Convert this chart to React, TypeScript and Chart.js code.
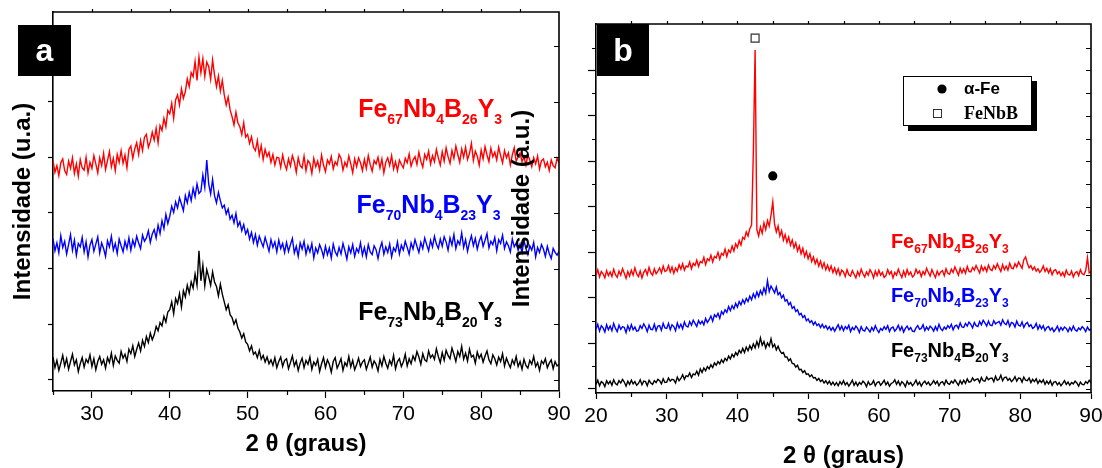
import { useEffect, useRef } from 'react';
import { Chart, registerables } from 'chart.js';

Chart.register(...registerables);

const SANS = '"Liberation Sans", Arial, Helvetica, sans-serif';
const SERIF = '"Liberation Serif", "Times New Roman", Times, serif';
const RED = '#ff0000';
const BLUE = '#0000ff';
const BLACK = '#000000';

// ---------- Panel a (2θ 25..90, step 0.25) ----------
const TWO_THETA_A = Array.from({ length: 261 }, (_, i) => 25 + i * 0.25);

const FE67_A = [
  394,373,385,367,390,397,376,369,393,380,399,371,388,366,396,381,377,400,372,391,
  380,403,388,372,399,385,407,378,394,410,383,398,376,405,391,412,389,404,381,414,
  420,398,415,426,405,430,412,436,441,418,428,445,431,452,426,457,448,470,455,484,
  478,497,470,503,512,494,523,506,518,541,527,552,545,572,538,580,552,577,545,571,
  563,540,575,548,527,546,519,538,512,494,508,485,473,458,481,462,455,441,462,436,
  441,425,437,418,412,430,404,421,396,414,401,409,391,405,386,400,399,382,404,388,
  378,397,384,403,392,373,399,385,381,402,376,394,389,371,398,383,393,377,404,386,
  374,395,388,401,379,392,386,405,398,377,391,383,402,388,372,397,383,399,390,376,
  396,380,403,387,375,394,388,400,381,397,372,391,399,385,403,379,392,376,395,387,
  381,398,390,406,384,395,401,387,409,393,382,405,396,411,388,403,392,414,399,386,
  410,393,417,401,389,412,398,420,405,391,415,400,418,396,407,425,394,411,402,386,
  413,397,419,404,392,416,401,409,395,418,403,390,412,399,408,386,404,417,393,401,
  408,392,401,386,404,395,383,399,388,402,379,394,397,383,391,376,395,385,381,398,
  390,
];

const FE70_A = [
  254,232,246,228,259,238,249,226,243,261,233,251,224,245,239,256,230,248,221,242,
  252,231,244,257,228,246,236,222,250,239,258,233,245,227,253,241,230,249,236,255,
  233,251,240,258,246,236,260,249,255,268,247,262,270,255,278,263,286,272,297,281,
  294,312,301,320,309,327,316,304,331,318,337,322,344,329,352,335,339,368,346,395,
  352,334,360,331,318,337,322,309,314,298,307,289,296,282,299,276,284,268,279,262,
  270,253,265,247,261,242,258,248,239,256,244,231,252,238,248,230,251,236,245,229,
  247,231,243,254,228,240,222,246,235,249,226,241,230,245,219,237,228,243,234,221,
  240,225,237,219,244,230,223,238,226,245,232,217,239,228,243,222,236,229,246,224,
  238,221,243,230,225,241,234,218,236,247,226,239,229,244,221,237,231,248,226,242,
  233,249,238,226,246,235,252,240,229,247,236,255,243,232,251,239,258,244,236,253,
  240,257,248,233,255,242,261,236,250,243,264,238,252,231,247,259,241,254,235,249,
  258,240,251,263,237,249,243,256,232,252,245,260,236,248,241,230,253,239,246,233,
  244,229,250,236,225,241,233,247,221,238,229,243,235,222,240,227,218,236,229,224,
  231,
];

const FE73_A = [
  41,22,35,17,30,44,25,38,19,33,46,27,36,15,29,40,23,37,31,45,
  24,38,18,33,42,28,36,21,40,31,48,26,43,35,30,51,39,46,33,55,
  47,61,42,55,66,52,71,60,78,67,84,72,81,96,88,103,97,114,104,122,
  126,140,119,146,137,155,131,160,149,170,156,176,165,190,170,232,178,206,169,198,
  185,170,194,176,168,151,172,154,140,126,135,117,112,100,108,93,86,75,83,68,
  64,52,61,46,50,40,53,37,44,32,41,29,36,26,40,22,33,41,24,35,
  38,20,31,43,25,34,17,30,39,22,35,28,41,19,32,26,37,15,29,40,
  22,36,28,14,33,40,21,29,38,17,31,25,42,23,35,18,27,39,24,32,
  36,19,30,41,23,34,28,16,37,25,42,30,21,35,27,44,20,33,38,24,
  32,46,25,38,29,43,35,51,41,28,47,36,33,52,40,45,37,56,42,31,
  49,35,53,44,38,57,46,33,51,42,60,37,48,34,55,41,44,30,50,39,
  46,32,43,52,36,29,45,38,27,41,33,47,25,39,30,22,36,28,42,24,
  33,19,37,26,21,35,28,42,24,31,17,34,29,38,22,30,36,20,33,25,
  28,
];

const X_TICKS_A = [30, 40, 50, 60, 70, 80, 90];
const X_MINOR_A = [25, 35, 45, 55, 65, 75, 85];
const X_TOP_A = [30, 35, 40, 45, 50, 55, 60, 65, 70, 75, 80, 85];
const Y_TICKS_A = [0, 100, 200, 300, 400, 500, 600];

// ---------- Panel b (2θ 20..90, step 0.25) ----------
const TWO_THETA_B = Array.from({ length: 281 }, (_, i) => 20 + i * 0.25);

const FE67_B = [
  250,262,246,258, 253,244,260,249, 257,247,263,251, 245,259,250,264, 254,243,258,248,
  261,250,266,253, 247,259,244,256, 262,251,267,255, 250,264,253,259, 266,255,270,258,
  260,271,257,268, 254,266,259,273, 263,275,261,270, 268,279,264,276, 271,283,269,280,
  277,289,273,286, 282,294,279,291, 288,300,285,298, 294,307,291,305, 300,314,303,319,
  311,326,316,333, 329,345,336,352, 360,520,745,350, 336,356,342,365, 350,370,358,382,
  411,362,345,358, 336,348,327,339, 322,334,316,327, 310,321,303,314, 297,309,291,302,
  286,297,280,290, 275,285,270,281, 266,277,262,272, 260,270,256,266, 253,264,250,261,
  257,247,262,251, 248,260,252,244, 258,249,263,253, 246,257,250,262, 255,244,259,249,
  261,250,256,245, 249,262,252,258, 244,256,250,263, 253,245,259,248, 262,251,257,246,
  250,263,254,259, 247,258,251,265, 256,248,262,253, 245,259,250,257, 260,249,264,254,
  252,263,256,268, 259,250,265,255, 264,254,269,258, 257,267,261,271, 263,255,270,260,
  268,258,272,263, 260,271,264,275, 266,258,273,262, 270,261,276,266, 264,275,268,279,
  272,265,284,290, 276,266,271,262, 268,259,264,256, 261,270,258,265, 255,264,251,260,
  262,253,258,249, 256,247,261,252, 250,259,246,255, 258,249,262,253, 251,260,288,255,
  257,
];

const FE70_B = [
  131,142,127,139, 134,125,141,130, 138,128,144,133, 126,140,131,137, 135,124,139,129,
  141,130,136,127, 128,139,133,143, 136,126,140,131, 130,142,128,138, 139,129,144,134,
  133,144,130,141, 137,128,145,134, 142,132,147,138, 136,148,140,151, 144,137,150,143,
  149,141,155,146, 152,160,149,163, 158,166,155,170, 164,174,168,181, 172,183,176,188,
  180,192,185,196, 188,199,192,204, 196,209,200,213, 203,216,207,222, 210,238,214,226,
  219,211,224,207, 212,200,206,193, 196,185,190,177, 181,170,174,163, 166,157,161,150,
  154,146,150,141, 147,139,143,135, 142,134,139,131, 137,129,135,127, 134,141,130,138,
  128,137,132,140, 126,135,130,138, 133,124,137,129, 127,136,131,125, 135,128,139,130,
  124,133,129,137, 131,139,126,134, 136,127,132,140, 129,137,125,133, 138,130,135,127,
  126,134,139,131, 133,141,128,136, 130,138,134,127, 137,129,142,132, 128,136,131,139,
  134,142,130,138, 140,133,145,136, 135,144,138,147, 142,134,146,139, 137,148,141,151,
  145,138,149,140, 139,150,143,146, 148,140,152,144, 141,150,137,146, 144,136,149,140,
  138,147,135,143, 146,137,141,133, 136,144,131,140, 132,139,128,135, 137,129,134,126,
  131,138,127,135, 129,136,133,126, 135,128,138,130, 127,134,130,137, 133,126,136,129,
  132,
];

const FE73_B = [
  10,19,7,16, 13,5,18,11, 17,8,20,12, 9,18,13,21, 15,6,17,10,
  19,11,16,8, 12,20,9,17, 16,7,19,13, 10,18,14,21, 18,11,22,14,
  15,24,17,21, 20,13,26,18, 23,31,21,29, 27,35,25,33, 31,39,30,44,
  36,46,40,49, 44,53,47,57, 52,60,55,64, 58,67,62,72, 66,76,70,80,
  74,85,79,89, 80,92,84,95, 87,99,90,104, 93,112,96,104, 90,101,94,110,
  92,98,86,94, 84,78,80,70, 70,62,66,56, 55,48,52,42, 43,36,40,32,
  33,27,31,24, 25,19,23,16, 20,13,18,11, 17,9,15,8, 14,7,16,10,
  18,9,14,6, 12,19,8,15, 7,14,10,17, 13,5,16,9, 11,18,7,14,
  16,8,13,19, 9,15,6,12, 14,20,10,17, 8,16,12,5, 17,10,14,7,
  12,19,9,15, 6,13,17,10, 15,8,12,18, 11,17,7,14, 16,9,19,12,
  10,17,13,20, 14,8,18,11, 19,12,22,15, 16,24,18,21, 22,14,25,18,
  17,26,20,23, 24,16,28,19, 21,30,18,25, 26,19,23,16, 20,27,17,24,
  23,15,26,19, 18,24,14,21, 16,22,12,19, 14,20,10,17, 11,18,8,15,
  16,9,14,7, 12,18,10,15, 8,14,11,17, 13,6,15,10, 9,16,12,19,
  13,
];

const X_TICKS_B = [20, 30, 40, 50, 60, 70, 80, 90];
const X_MINOR_B = [25, 35, 45, 55, 65, 75, 85];
const X_TOP_B = [25, 30, 35, 40, 45, 50, 55, 60, 65, 70, 75, 80, 85];
const Y_TICKS_B = [0, 100, 200, 300, 400, 500, 600, 700];
const Y_MINOR_B = [50, 150, 250, 350, 450, 550, 650, 750];

// Phase markers (2θ, intensity)
const PEAK_FENBB = [{ x: 42.5, y: 771 }];
const PEAK_AFE = [{ x: 45.0, y: 468 }];
const LEGEND_B = ['α-Fe', 'FeNbB'];

// Composition names (main, subscript, main, subscript, ...)
const NAME_67 = ['Fe', '67', 'Nb', '4', 'B', '26', 'Y', '3'];
const NAME_70 = ['Fe', '70', 'Nb', '4', 'B', '23', 'Y', '3'];
const NAME_73 = ['Fe', '73', 'Nb', '4', 'B', '20', 'Y', '3'];

function drawFormula(ctx: CanvasRenderingContext2D, parts: string[], x: number, y: number, color: string, mainPx: number, subPx: number, subDy: number) {
  ctx.fillStyle = color;
  ctx.textAlign = 'left';
  ctx.textBaseline = 'alphabetic';
  let cx = x;
  parts.forEach((p, i) => {
    const sub = i % 2 === 1;
    ctx.font = `bold ${sub ? subPx : mainPx}px ${SANS}`;
    ctx.fillText(p, cx, sub ? y + subDy : y);
    cx += ctx.measureText(p).width;
  });
}

function decor(cfg: any) {
  return {
    id: cfg.id,
    afterDraw(chart: any) {
      const { ctx, chartArea, scales } = chart;
      const { left, right, top, bottom } = chartArea;
      const x = scales.x;
      const y = scales.y;
      const px = (v: number) => Math.round(x.getPixelForValue(v)) + 0.5;
      const py = (v: number) => Math.round(y.getPixelForValue(v)) + 0.5;
      ctx.save();
      ctx.strokeStyle = '#000';
      ctx.lineWidth = 1.6;
      ctx.beginPath();
      ctx.moveTo(left, top);
      ctx.lineTo(right, top);
      ctx.lineTo(right, bottom);
      ctx.stroke();
      ctx.lineWidth = 1.2;
      ctx.beginPath();
      cfg.topTicks.forEach((v: number) => { const p = px(v); ctx.moveTo(p, top); ctx.lineTo(p, top - 3); });
      cfg.rightTicks.forEach((v: number) => { const p = py(v); ctx.moveTo(right, p); ctx.lineTo(right - 5, p); });
      cfg.bottomMinor.forEach((v: number) => { const p = px(v); ctx.moveTo(p, bottom); ctx.lineTo(p, bottom + cfg.minorLen); });
      cfg.leftMinor.forEach((v: number) => { const p = py(v); ctx.moveTo(left, p); ctx.lineTo(left - cfg.minorLen, p); });
      ctx.stroke();

      cfg.labels.forEach((l: any) => {
        drawFormula(ctx, l.parts, x.getPixelForValue(l.at[0]), y.getPixelForValue(l.at[1]), l.color, cfg.mainPx, cfg.subPx, cfg.subDy);
      });

      const b = cfg.box;
      ctx.fillStyle = '#000';
      ctx.fillRect(b.x, b.y, b.w, b.h);
      ctx.fillStyle = '#fff';
      ctx.font = `bold ${b.size}px ${SANS}`;
      ctx.textAlign = 'center';
      ctx.textBaseline = 'alphabetic';
      ctx.fillText(b.text, b.x + b.w / 2, b.base);

      if (cfg.legend) {
        const g = cfg.legend;
        ctx.fillStyle = '#000';
        ctx.fillRect(g.x + 5, g.y + 5, g.w, g.h);
        ctx.fillStyle = '#fff';
        ctx.fillRect(g.x, g.y, g.w, g.h);
        ctx.strokeStyle = '#000';
        ctx.lineWidth = 1;
        ctx.strokeRect(g.x + 0.5, g.y + 0.5, g.w - 1, g.h - 1);
        ctx.fillStyle = '#000';
        ctx.beginPath();
        ctx.arc(g.x + 39, g.y + 13, 4.6, 0, Math.PI * 2);
        ctx.fill();
        ctx.strokeStyle = '#333';
        ctx.strokeRect(g.x + 30.5, g.y + 33.5, 8, 8);
        ctx.fillStyle = '#000';
        ctx.textAlign = 'left';
        ctx.textBaseline = 'middle';
        ctx.font = `bold 17px ${SANS}`;
        ctx.fillText(LEGEND_B[0], g.x + 61, g.y + 13);
        ctx.font = `bold 18px ${SERIF}`;
        ctx.fillText(LEGEND_B[1], g.x + 61, g.y + 38);
      }
      ctx.restore();
    },
  };
}

function lineSet(label: string, xs: number[], ys: number[], color: string) {
  return {
    label,
    data: ys.map((v, i) => ({ x: xs[i], y: v })),
    borderColor: color,
    borderWidth: 1.4,
    pointRadius: 0,
    fill: false,
    tension: 0,
  };
}

function buildScales(o: any) {
  return {
    x: {
      type: 'linear', position: 'bottom', min: o.xMin, max: o.xMax,
      afterBuildTicks: (s: any) => { s.ticks = o.xTicks.map((v: number) => ({ value: v })); },
      afterFit: (s: any) => { s.height = o.xHeight; s.paddingLeft = 0; s.paddingRight = 0; },
      ticks: { display: true, autoSkip: false, maxRotation: 0, minRotation: 0, padding: o.xLabelPad, color: '#000', font: { family: SANS, size: 21 }, callback: (v: any) => String(v) },
      grid: { display: true, drawOnChartArea: false, drawTicks: true, tickLength: o.xTickLen, color: '#000', tickWidth: 1.2 },
      border: { display: true, color: '#000', width: 1.6 },
      title: { display: true, text: '2 θ (graus)', color: '#000', font: { family: SANS, size: 24, weight: 'bold', lineHeight: 1 }, padding: { top: 0, bottom: o.xTitlePad } },
    },
    y: {
      type: 'linear', position: 'left', min: o.yMin, max: o.yMax,
      afterBuildTicks: (s: any) => { s.ticks = o.yTicks.map((v: number) => ({ value: v })); },
      afterFit: (s: any) => { s.width = o.yWidth; s.paddingTop = 0; s.paddingBottom = 0; },
      ticks: { display: false },
      grid: { display: true, drawOnChartArea: false, drawTicks: true, tickLength: o.yTickLen, color: '#000', tickWidth: 1.2 },
      border: { display: true, color: '#000', width: 1.6 },
      title: { display: true, text: o.yTitle, color: '#000', font: { family: SANS, size: 24, weight: 'bold', lineHeight: 1 }, padding: { top: o.yTitlePad, bottom: 0 } },
    },
  };
}

export default function App() {
  const refA = useRef<HTMLCanvasElement | null>(null);
  const refB = useRef<HTMLCanvasElement | null>(null);

  useEffect(() => {
    const chartA = new Chart(refA.current as HTMLCanvasElement, {
      type: 'line',
      data: {
        datasets: [
          lineSet('Fe67Nb4B26Y3', TWO_THETA_A, FE67_A, RED),
          lineSet('Fe70Nb4B23Y3', TWO_THETA_A, FE70_A, BLUE),
          lineSet('Fe73Nb4B20Y3', TWO_THETA_A, FE73_A, BLACK),
        ],
      } as any,
      options: {
        responsive: false,
        animation: false,
        events: [],
        layout: { padding: { left: 0, top: 12, right: 17, bottom: 0 } },
        plugins: { legend: { display: false }, tooltip: { enabled: false } },
        scales: buildScales({
          xMin: 25, xMax: 90, xTicks: X_TICKS_A, xHeight: 77, xLabelPad: 4, xTickLen: 7, xTitlePad: 12,
          yMin: -20, yMax: 661, yTicks: Y_TICKS_A, yWidth: 53, yTickLen: 5, yTitle: 'Intensidade (u.a.)', yTitlePad: 11,
        }),
      } as any,
      plugins: [decor({
        id: 'decorA',
        topTicks: X_TOP_A,
        rightTicks: Y_TICKS_A,
        bottomMinor: X_MINOR_A,
        leftMinor: [],
        minorLen: 4,
        labels: [
          { parts: NAME_67, color: RED, at: [64.2, 472] },
          { parts: NAME_70, color: BLUE, at: [64.0, 300] },
          { parts: NAME_73, color: BLACK, at: [64.2, 108] },
        ],
        mainPx: 25, subPx: 14, subDy: 7,
        box: { x: 18, y: 25, w: 53, h: 51, text: 'a', size: 32, base: 61 },
      })],
    });

    const chartB = new Chart(refB.current as HTMLCanvasElement, {
      type: 'line',
      data: {
        datasets: [
          lineSet('Fe67Nb4B26Y3', TWO_THETA_B, FE67_B, RED),
          lineSet('Fe70Nb4B23Y3', TWO_THETA_B, FE70_B, BLUE),
          lineSet('Fe73Nb4B20Y3', TWO_THETA_B, FE73_B, BLACK),
          { label: 'FeNbB', data: PEAK_FENBB, showLine: false, pointStyle: 'rect', pointRadius: 5.6, pointBackgroundColor: '#fff', pointBorderColor: '#333', pointBorderWidth: 1.2 },
          { label: 'α-Fe', data: PEAK_AFE, showLine: false, pointStyle: 'circle', pointRadius: 4.6, pointBackgroundColor: '#000', pointBorderColor: '#000', pointBorderWidth: 0 },
        ],
      } as any,
      options: {
        responsive: false,
        animation: false,
        events: [],
        layout: { padding: { left: 0, top: 24, right: 11, bottom: 0 } },
        plugins: { legend: { display: false }, tooltip: { enabled: false } },
        scales: buildScales({
          xMin: 20, xMax: 90, xTicks: X_TICKS_B, xHeight: 75, xLabelPad: 5, xTickLen: 6, xTitlePad: 0,
          yMin: -9, yMax: 802, yTicks: Y_TICKS_B, yWidth: 96, yTickLen: 8, yTitle: 'Intensidade (a.u.)', yTitlePad: 10,
        }),
      } as any,
      plugins: [decor({
        id: 'decorB',
        topTicks: X_TOP_B,
        rightTicks: [...Y_TICKS_B, ...Y_MINOR_B],
        bottomMinor: X_MINOR_B,
        leftMinor: Y_MINOR_B,
        minorLen: 4,
        labels: [
          { parts: NAME_67, color: RED, at: [61.7, 310] },
          { parts: NAME_70, color: BLUE, at: [61.7, 191] },
          { parts: NAME_73, color: BLACK, at: [61.7, 70] },
        ],
        mainPx: 20, subPx: 12, subDy: 5,
        box: { x: 97, y: 24, w: 52, h: 52, text: 'b', size: 32, base: 61 },
        legend: { x: 403, y: 76, w: 129, h: 50 },
      })],
    });

    return () => {
      chartA.destroy();
      chartB.destroy();
    };
  }, []);

  return (
    <div style={{ position: 'fixed', left: 0, top: 0, width: 1102, height: 468, background: '#fff' }}>
      <canvas ref={refA} width={576} height={468} style={{ position: 'absolute', left: 0, top: 0, width: 576, height: 468 }} />
      <canvas ref={refB} width={602} height={468} style={{ position: 'absolute', left: 500, top: 0, width: 602, height: 468 }} />
    </div>
  );
}
